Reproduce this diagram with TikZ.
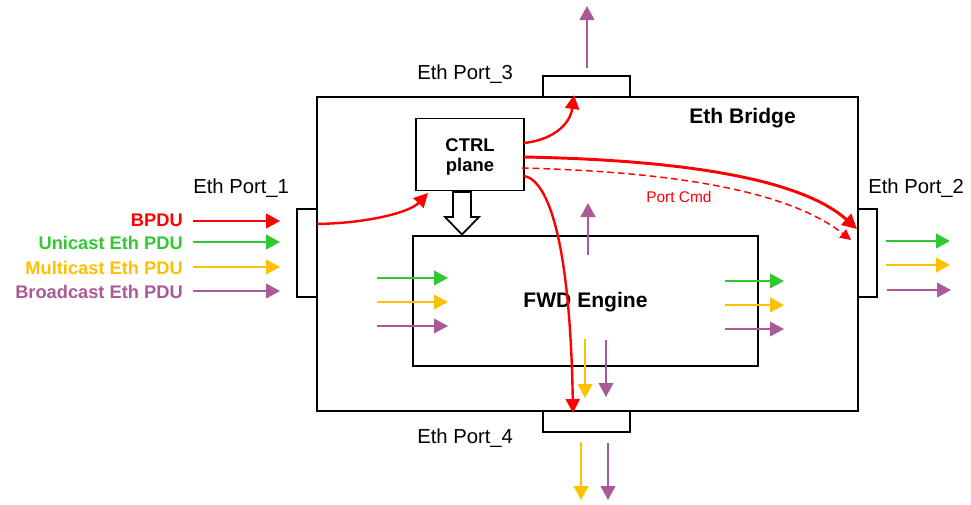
\documentclass[tikz,border=0pt]{standalone}
\usepackage{fontspec}
\setmainfont{Liberation Sans}
\usetikzlibrary{arrows.meta}
\definecolor{cred}{RGB}{255,0,0}
\definecolor{cgreen}{RGB}{50,200,50}
\definecolor{cyel}{RGB}{255,192,0}
\definecolor{cpur}{RGB}{170,90,150}
\tikzset{
  box/.style={draw=black,line width=1.3pt,fill=white,inner sep=0pt},
  flow/.style={line width=1.6pt,-{Triangle[length=10.5pt,width=11pt]}},
  redthick/.style={draw=cred,line width=2.2pt,-{Triangle[length=11pt,width=11pt]}},
  redthin/.style={draw=cred,line width=1.8pt,-{Triangle[length=10.5pt,width=10.5pt]}},
  portlbl/.style={inner sep=0pt,font=\fontsize{15.2}{18}\selectfont},
  lbl/.style={inner sep=0pt,font=\fontsize{13.7}{16}\selectfont\bfseries,anchor=base east},
}
\begin{document}
\begin{tikzpicture}[x=0.75pt,y=-0.75pt]
\useasboundingbox (0,0) rectangle (971,504);
% boxes
\node[box,minimum width=405.75pt,minimum height=235.5pt] (bridge) at (587.5,254) {};
\node[box,minimum width=65.25pt,minimum height=15.75pt] (p3) at (586.5,86.5) {};
\node[box,minimum width=65.25pt,minimum height=15.75pt] (p4) at (586.5,421.5) {};
\node[box,minimum width=15pt,minimum height=66pt] (p1) at (307,253) {};
\node[box,minimum width=14.25pt,minimum height=66pt] (p2) at (867.5,253) {};
\node[box,minimum width=81pt,minimum height=54pt] (ctrl) at (470,154.5) {};
\node[box,minimum width=258.75pt,minimum height=97.5pt] (fwd) at (585.5,301) {};
% texts
\node[portlbl,anchor=base west] (t1) at (193,193) {Eth Port\_1};
\node[portlbl,anchor=base west] (t2) at (868,193) {Eth Port\_2};
\node[portlbl,anchor=base west] (t3) at (417,79) {Eth Port\_3};
\node[portlbl,anchor=base west] (t4) at (417,443) {Eth Port\_4};
\node[inner sep=0pt,anchor=base west,font=\fontsize{15.8}{18}\selectfont\bfseries] (tb) at (689,123) {Eth Bridge};
\node[inner sep=0pt,anchor=base,font=\fontsize{13.8}{16}\selectfont\bfseries] (tc1) at (470,151) {CTRL};
\node[inner sep=0pt,anchor=base,font=\fontsize{13.8}{16}\selectfont\bfseries] (tc2) at (470,171) {plane};
\node[inner sep=0pt,anchor=base,font=\fontsize{15.8}{18}\selectfont\bfseries] (tf) at (585.5,307) {FWD Engine};
\node[inner sep=0pt,anchor=base west,text=cred,font=\fontsize{11.6}{14}\selectfont] (tpc) at (646,202) {Port Cmd};
\node[lbl,text=cred] (l1) at (183,226) {BPDU};
\node[lbl,text=cgreen] (l2) at (183,249) {Unicast Eth PDU};
\node[lbl,text=cyel] (l3) at (183,274) {Multicast Eth PDU};
\node[lbl,text=cpur] (l4) at (183,298) {Broadcast Eth PDU};
% hollow arrow ctrl -> fwd
\draw[line width=1.3pt,fill=white] (453,192) -- (471,192) -- (471,217) -- (479,217) -- (462,234.5) -- (445,217) -- (453,217) -- cycle;
% input arrows
\coordinate (a1s) at (193,221); \coordinate (a1e) at (280,221);
\coordinate (a2s) at (193,242); \coordinate (a2e) at (280,242);
\coordinate (a3s) at (193,267); \coordinate (a3e) at (280,267);
\coordinate (a4s) at (193,291); \coordinate (a4e) at (280,291);
\draw[flow,cred] (a1s) -- (a1e);
\draw[flow,cgreen] (a2s) -- (a2e);
\draw[flow,cyel] (a3s) -- (a3e);
\draw[flow,cpur] (a4s) -- (a4e);
% inside fwd left
\draw[flow,cgreen,line width=1.2pt] (377,278) -- (448,278);
\draw[flow,cyel,line width=1.2pt] (377,302) -- (448,302);
\draw[flow,cpur,line width=1.2pt] (377,326) -- (448,326);
% inside fwd right
\draw[flow,cgreen,line width=1.2pt] (725,281) -- (784,281);
\draw[flow,cyel,line width=1.2pt] (725,305) -- (784,305);
\draw[flow,cpur,line width=1.2pt] (725,329) -- (784,329);
% outside right
\draw[flow,cgreen] (886,241) -- (950,241);
\draw[flow,cyel] (886,265) -- (950,265);
\draw[flow,cpur] (887,290) -- (951,290);
% purple up
\draw[flow,cpur] (588,255) -- (588,203);
\draw[flow,cpur] (587,68) -- (587,6);
% bottom down
\draw[flow,cyel,line width=1.2pt] (585,339) -- (585,398);
\draw[flow,cpur,line width=1.2pt] (606,340) -- (606,397);
\draw[flow,cyel] (581,442) -- (581,500);
\draw[flow,cpur] (608,443) -- (608,500);
% red curves
\coordinate (r1s) at (317,224);
\coordinate (r1e) at (428,193);
\draw[redthin] (r1s) .. controls (370,223) and (410,212) .. (r1e);
\coordinate (r2s) at (524,143);
\coordinate (r2e) at (574,95);
\draw[redthin] (r2s) .. controls (552,140) and (570,125) .. (r2e);
\coordinate (r3s) at (524,157);
\coordinate (r3e) at (857,229);
\draw[redthick] (r3s) .. controls (680,160) and (800,178) .. (r3e);
\coordinate (r4s) at (522,168);
\coordinate (r4e) at (851,240);
\draw[cred,line width=1.1pt,dashed,dash pattern=on 5pt off 3pt,-{Triangle[length=8pt,width=8pt]}] (r4s) .. controls (680,172) and (790,192) .. (r4e);
\coordinate (r5s) at (524,176);
\coordinate (r5e) at (573,413);
\draw[redthin] (r5s) .. controls (548,180) and (570,240) .. (r5e);
\end{tikzpicture}
\end{document}
